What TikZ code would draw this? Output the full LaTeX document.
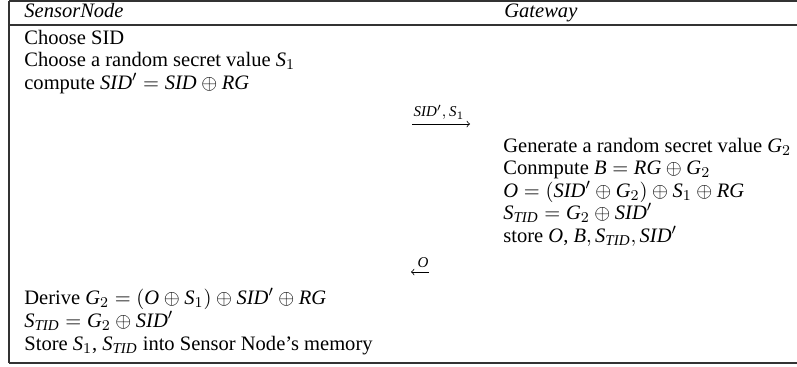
\documentclass[tikz,border=0pt]{standalone}
\usepackage{amsmath}
\usepackage{fontspec}
\setmainfont{Liberation Serif}
\usepackage{tikz}

\newcommand{\iv}[1]{\mathit{#1}}

\tikzset{
    cell/.style={anchor=base west, inner sep=0pt, font=\fontsize{10.95}{13}\selectfont},
    rule/.style={line width=0.6pt, draw=black!80},
    msg/.style={->, line width=0.4pt},
    msglabel/.style={above, inner sep=2pt, font=\fontsize{8}{9.6}\selectfont}
}

\begin{document}
\begin{tikzpicture}[x=0.5333pt, y=-0.5333pt]
    \useasboundingbox (0,0) rectangle (797,366);

    % Table frame
    \draw[rule] (9,1) -- (797,1);
    \draw[rule, line width=1pt] (9,25) -- (797,25);
    \draw[rule] (9,363) -- (797,363);
    \draw[rule] (9,1) -- (9,363);

    % Header
    \node[cell] (sn) at (24,17) {$\iv{SensorNode}$};
    \node[cell] (gw) at (504,17) {$\iv{Gateway}$};

    % Sensor node, first step
    \node[cell] (s1) at (24,44) {Choose SID};
    \node[cell] (s2) at (24,66) {Choose a random secret value $\iv{S}_1$};
    \node[cell] (s3) at (24,89) {compute $\iv{SID}' = \iv{SID} \oplus \iv{RG}$};

    % Message SID', S1
    \coordinate (m1a) at (412,124);
    \coordinate (m1b) at (470,124);
    \draw[msg] (m1a) -- (m1b);
    \node[msglabel] (m1) at (439,124) {$\iv{SID}',\iv{S}_1$};

    % Gateway
    \node[cell] (g1) at (503,152) {Generate a random secret value $\iv{G}_2$};
    \node[cell] (g2) at (503,174) {Conmpute $\iv{B} = \iv{RG} \oplus \iv{G}_2$};
    \node[cell] (g3) at (503,197) {$\iv{O} = (\iv{SID}' \oplus \iv{G}_2) \oplus \iv{S}_1 \oplus \iv{RG}$};
    \node[cell] (g4) at (503,219) {$\iv{S}_{\iv{TID}} = \iv{G}_2 \oplus \iv{SID}'$};
    \node[cell] (g5) at (503,242) {store $\iv{O}$, $\iv{B}, \iv{S}_{\iv{TID}}, \iv{SID}'$};

    % Message O
    \coordinate (m2a) at (429,272);
    \coordinate (m2b) at (411,272);
    \draw[msg] (m2a) -- (m2b);
    \node[msglabel] (m2) at (423,272) {$\iv{O}$};

    % Sensor node, last step
    \node[cell] (s4) at (24,304) {Derive $\iv{G}_2 = (\iv{O} \oplus \iv{S}_1) \oplus \iv{SID}' \oplus \iv{RG}$};
    \node[cell] (s5) at (24,327) {$\iv{S}_{\iv{TID}} = \iv{G}_2 \oplus \iv{SID}'$};
    \node[cell] (s6) at (24,350) {Store $\iv{S}_1$, $\iv{S}_{\iv{TID}}$ into Sensor Node's memory};
\end{tikzpicture}
\end{document}
